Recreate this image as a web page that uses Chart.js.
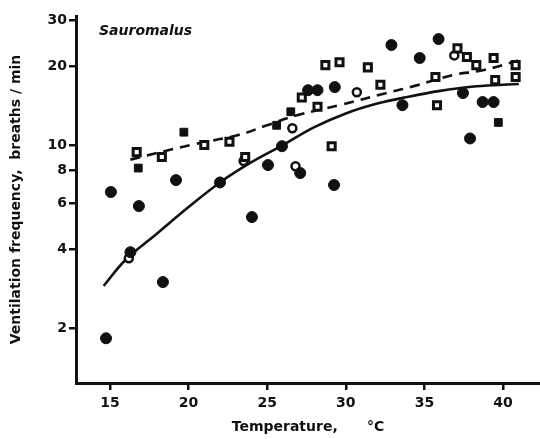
<!DOCTYPE html>
<html>
<head>
<meta charset="utf-8">
<script src="https://cdn.jsdelivr.net/npm/chart.js@4.4.1/dist/chart.umd.min.js"></script>
<style>
  html, body { margin: 0; padding: 0; background: #fff; overflow: hidden; width: 540px; height: 439px; }
  canvas { display: block; }
</style>
</head>
<body>
<canvas id="c" width="548" height="439"></canvas>
<script>
// ---- data ----
const xTicks = [15, 20, 25, 30, 35, 40];
const yTicks = [2, 4, 6, 8, 10, 20, 30];

const circleX = [14.75, 15.06, 16.84, 16.3, 18.37, 19.2, 22.0, 24.03, 25.05, 25.94, 27.1, 29.25, 29.3, 27.6, 28.2, 32.9, 35.9, 34.7, 33.6, 37.45, 38.7, 39.4, 37.9];
const circleY = [1.83, 6.62, 5.85, 3.9, 3.0, 7.35, 7.2, 5.31, 8.39, 9.9, 7.82, 7.04, 16.65, 16.2, 16.2, 24.1, 25.4, 21.5, 14.2, 15.8, 14.6, 14.6, 10.6];

const openSqX = [16.7, 18.3, 21.0, 22.6, 23.6, 27.2, 28.7, 29.6, 28.2, 29.1, 31.4, 32.2, 35.7, 35.8, 37.1, 37.7, 38.3, 39.4, 40.8, 40.8, 39.5];
const openSqY = [9.4, 9.0, 10.0, 10.3, 9.0, 15.2, 20.2, 20.7, 14.0, 9.9, 19.8, 17.0, 18.2, 14.2, 23.4, 21.7, 20.2, 21.5, 20.2, 18.2, 17.7];

const fillSqX = [16.8, 19.7, 25.6, 26.5, 39.7];
const fillSqY = [8.17, 11.2, 11.9, 13.4, 12.2];

const openCircX = [16.2, 26.6, 30.7, 26.8, 36.9, 23.5];
const openCircY = [3.7, 11.6, 15.9, 8.3, 22.0, 8.7];

const solidX = [14.6, 16, 18, 20, 22, 24, 26, 28, 30, 32, 34, 36, 38, 40, 41];
const solidY = [2.9, 3.65, 4.6, 5.8, 7.2, 8.6, 10.0, 11.7, 13.2, 14.4, 15.3, 16.1, 16.7, 17.0, 17.1];

const dashX = [16.3, 20.1, 23.1, 25.0, 26.9, 29.8, 32.6, 34.5, 36.8, 38.7, 41.2];
const dashY = [8.8, 10.0, 10.9, 11.9, 13.0, 14.3, 15.8, 16.9, 18.5, 19.3, 21.2];

const zip = (xs, ys) => xs.map((x, i) => ({ x: x, y: ys[i] }));

const FONT = "'DejaVu Sans', sans-serif";

const labelPlugin = {
  id: 'speciesLabel',
  afterDraw(chart) {
    const ctx = chart.ctx;
    ctx.save();
    ctx.fillStyle = '#111';
    ctx.font = "italic bold 14px " + FONT;
    ctx.textBaseline = 'middle';
    ctx.fillText('Sauromalus', 99, 31);
    ctx.restore();
  }
};

const noPad = s => { s.paddingLeft = 0; s.paddingRight = 0; s.paddingTop = 0; s.paddingBottom = 0; };

new Chart(document.getElementById('c'), {
  type: 'scatter',
  data: {
    datasets: [
      { type: 'line', data: zip(solidX, solidY), borderColor: '#111', borderWidth: 2.6,
        pointRadius: 0, fill: false, tension: 0.4, order: 5 },
      { type: 'line', data: zip(dashX, dashY), borderColor: '#111', borderWidth: 2.6,
        borderDash: [10, 7], pointRadius: 0, fill: false, tension: 0.4, order: 5 },
      { data: zip(circleX, circleY), pointStyle: 'circle', pointRadius: 5.5,
        backgroundColor: '#111', borderColor: '#111', borderWidth: 1, order: 1 },
      { data: zip(openSqX, openSqY), pointStyle: 'rect', pointRadius: 5,
        backgroundColor: '#fff', borderColor: '#111', borderWidth: 3, order: 2 },
      { data: zip(fillSqX, fillSqY), pointStyle: 'rect', pointRadius: 5.5,
        backgroundColor: '#111', borderColor: '#111', borderWidth: 1, order: 2 },
      { data: zip(openCircX, openCircY), pointStyle: 'circle', pointRadius: 4,
        backgroundColor: '#fff', borderColor: '#111', borderWidth: 2.5, order: 3 }
    ]
  },
  options: {
    responsive: false,
    animation: false,
    devicePixelRatio: 1,
    layout: { padding: { top: 16, right: 0, left: 0, bottom: 0 } },
    plugins: { legend: { display: false }, tooltip: { enabled: false } },
    scales: {
      x: {
        type: 'linear', min: 12.84, max: 42.35,
        afterBuildTicks: s => { s.ticks = xTicks.map(v => ({ value: v })); },
        afterFit: s => { s.height = 56; noPad(s); },
        border: { display: true, color: '#111', width: 3 },
        grid: { display: true, drawOnChartArea: false, drawTicks: true, tickLength: 7, color: '#111', lineWidth: 2.5 },
        ticks: { color: '#111', font: { family: FONT, size: 14, weight: 'bold' }, padding: 5, maxRotation: 0 },
        title: { display: true, text: 'Temperature,      °C', color: '#111',
                 font: { family: FONT, size: 14, weight: 'bold' }, padding: { top: 0, bottom: 3 } }
      },
      y: {
        type: 'logarithmic', min: 1.235, max: 31.1,
        afterBuildTicks: s => { s.ticks = yTicks.map(v => ({ value: v })); },
        afterFit: s => { s.width = 76; noPad(s); },
        border: { display: true, color: '#111', width: 3 },
        grid: { display: true, drawOnChartArea: false, drawTicks: true, tickLength: 7, color: '#111', lineWidth: 2.5 },
        ticks: { color: '#111', font: { family: FONT, size: 14, weight: 'bold' }, padding: 2,
                 callback: v => String(v) },
        title: { display: true, text: 'Ventilation frequency,  breaths / min', color: '#111',
                 font: { family: FONT, size: 14, weight: 'bold' }, padding: { top: 8, bottom: 0 } }
      }
    }
  },
  plugins: [labelPlugin]
});
</script>
</body>
</html>
